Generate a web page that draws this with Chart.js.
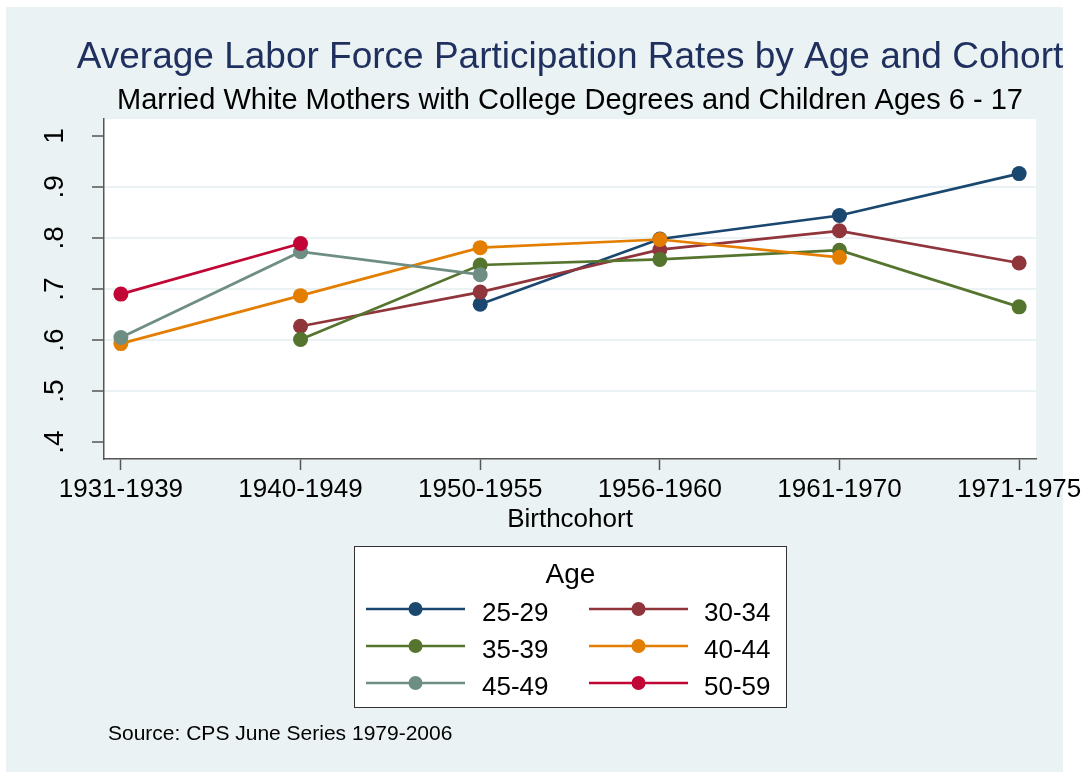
<!DOCTYPE html>
<html>
<head>
<meta charset="utf-8">
<script src="https://cdn.jsdelivr.net/npm/chart.js@4.4.1/dist/chart.umd.min.js"></script>
<style>
  html, body { margin: 0; background: #fff; }
  #wrap { position: relative; width: 1091px; height: 772px; }
</style>
</head>
<body>
<div id="wrap"><canvas id="c" width="1091" height="772"></canvas></div>
<script>
const cohorts = ['1931-1939', '1940-1949', '1950-1955', '1956-1960', '1961-1970', '1971-1975'];
const ageGroups = ['25-29', '30-34', '35-39', '40-44', '45-49', '50-59'];

// participation rates per birth cohort (null = not observed)
const age2529 = [null, null, 0.670, 0.798, 0.844, 0.926];
const age3034 = [null, 0.627, 0.694, 0.777, 0.814, 0.751];
const age3539 = [null, 0.601, 0.747, 0.758, 0.776, 0.665];
const age4044 = [0.593, 0.687, 0.781, 0.797, 0.762, null];
const age4549 = [0.605, 0.773, 0.728, null, null, null];
const age5059 = [0.690, 0.789, null, null, null, null];

const yTicks = [0.4, 0.5, 0.6, 0.7, 0.8, 0.9, 1];
const yTickLabels = ['.4', '.5', '.6', '.7', '.8', '.9', '1'];

const colors = ['#1a476f', '#90353b', '#55752f', '#e37e00', '#6e8e84', '#c10534'];
const series = [age2529, age3034, age3539, age4044, age4549, age5059];

const FONT = 'Liberation Sans, Arial, sans-serif';
const BG = '#eaf2f3';

const toPoints = arr => arr.map((v, i) => v == null ? null : { x: i, y: v }).filter(Boolean);

const datasets = series.map((arr, i) => ({
    label: ageGroups[i],
    data: toPoints(arr),
    borderColor: colors[i],
    backgroundColor: colors[i],
    borderWidth: 2.7,
    pointRadius: 7.5,
    pointBorderWidth: 0,
    pointBackgroundColor: colors[i],
    tension: 0,
    clip: false,
    order: -i          // later series drawn on top, like the original
}));

const decorPlugin = {
    id: 'decor',
    beforeDraw(chart) {
        const { ctx, chartArea: a } = chart;
        ctx.save();
        ctx.fillStyle = '#fff';
        ctx.fillRect(0, 0, chart.width, chart.height);
        ctx.fillStyle = BG;
        ctx.fillRect(6, 7, 1057, 765);
        ctx.fillStyle = '#fff';
        ctx.fillRect(a.left, a.top, a.right - a.left, a.bottom - a.top);
        ctx.restore();
    },
    afterDraw(chart) {
        const { ctx, chartArea: a } = chart;
        const cx = (a.left + a.right) / 2;
        const y = chart.scales.y;
        ctx.save();

        // titles
        ctx.textAlign = 'center';
        ctx.textBaseline = 'alphabetic';
        ctx.fillStyle = '#1f2f5e';
        ctx.font = '37px ' + FONT;
        ctx.fillText('Average Labor Force Participation Rates by Age and Cohort', cx, 68);
        ctx.fillStyle = '#000';
        ctx.font = '29px ' + FONT;
        ctx.fillText('Married White Mothers with College Degrees and Children Ages 6 - 17', cx, 109);

        // rotated y tick labels
        ctx.font = '28px ' + FONT;
        yTicks.forEach((v, i) => {
            ctx.save();
            ctx.translate(63, y.getPixelForValue(v));
            ctx.rotate(-Math.PI / 2);
            ctx.textAlign = 'center';
            ctx.textBaseline = 'alphabetic';
            ctx.fillText(yTickLabels[i], 0, 0);
            ctx.restore();
        });

        // x axis title
        ctx.font = '26px ' + FONT;
        ctx.textAlign = 'center';
        ctx.fillText('Birthcohort', cx, 527);

        // legend
        const lx = 354.5, ly = 546.5, lw = 432, lh = 161;
        ctx.fillStyle = '#fff';
        ctx.fillRect(lx, ly, lw, lh);
        ctx.strokeStyle = '#333';
        ctx.lineWidth = 1;
        ctx.strokeRect(lx, ly, lw, lh);
        ctx.fillStyle = '#000';
        ctx.font = '28px ' + FONT;
        ctx.fillText('Age', lx + lw / 2, 583);

        const colLine = [366, 589], colText = [482, 704], rowY = [609, 646, 683];
        ctx.font = '26px ' + FONT;
        ctx.textAlign = 'left';
        chart.data.datasets.forEach((ds, i) => {
            const c = i % 2, r = Math.floor(i / 2);
            const yy = rowY[r];
            ctx.strokeStyle = ds.borderColor;
            ctx.lineWidth = 2.5;
            ctx.beginPath();
            ctx.moveTo(colLine[c], yy);
            ctx.lineTo(colLine[c] + 99, yy);
            ctx.stroke();
            ctx.fillStyle = ds.borderColor;
            ctx.beginPath();
            ctx.arc(colLine[c] + 49.5, yy, 7, 0, Math.PI * 2);
            ctx.fill();
            ctx.fillStyle = '#000';
            ctx.fillText(ds.label, colText[c], yy + 12);
        });

        // source note
        ctx.font = '21px ' + FONT;
        ctx.fillText('Source: CPS June Series 1979-2006', 108, 740);
        ctx.restore();
    }
};

new Chart(document.getElementById('c'), {
    type: 'line',
    data: { datasets },
    options: {
        responsive: false,
        animation: false,
        events: [],
        layout: { padding: { top: 119, right: 55, left: 0, bottom: 0 } },
        plugins: {
            legend: { display: false },
            tooltip: { enabled: false },
            title: { display: false }
        },
        scales: {
            x: {
                type: 'linear',
                min: -0.094,
                max: 5.094,
                afterBuildTicks: s => { s.ticks = cohorts.map((c, i) => ({ value: i })); },
                afterFit: s => { s.height = 772 - 459; },
                ticks: {
                    callback: v => cohorts[v],
                    font: { family: FONT, size: 26 },
                    color: '#000',
                    maxRotation: 0,
                    autoSkip: false,
                    padding: 4
                },
                grid: { drawOnChartArea: false, tickLength: 11, tickColor: '#555', tickWidth: 1.5 },
                border: { color: '#555', width: 1.5 }
            },
            y: {
                min: 0.367,
                max: 1.033,
                afterBuildTicks: s => { s.ticks = yTicks.map(v => ({ value: v })); },
                afterFit: s => { s.width = 104; },
                ticks: { display: false },
                grid: {
                    color: c => (c.tick && c.tick.value > 0.45 && c.tick.value < 0.95) ? BG : 'rgba(0,0,0,0)',
                    lineWidth: 2,
                    tickLength: 12,
                    tickColor: '#555',
                    tickWidth: 1.5
                },
                border: { color: '#555', width: 1.5 }
            }
        }
    },
    plugins: [decorPlugin]
});
</script>
</body>
</html>
